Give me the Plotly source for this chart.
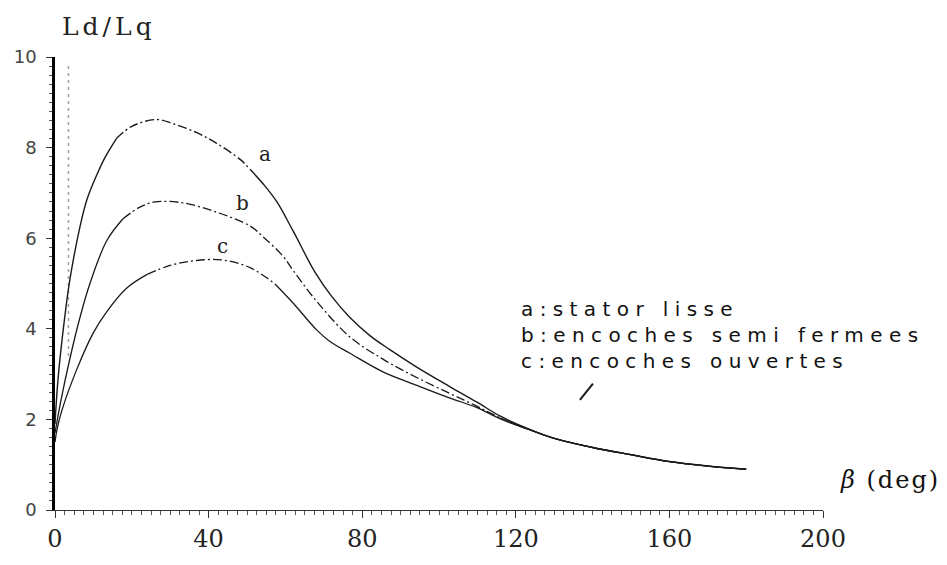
import plotly.graph_objects as go

# ---- data ----
x_a = [0, 0.8, 2.6, 3.9, 6.5, 8.3, 10.9, 13, 16, 20, 26.5, 31, 36.9, 42, 48.2, 50.8, 54.7, 57.8,
       62, 67.7, 72, 76.8, 82, 87.2, 94.3, 102.9, 109.9, 116, 123, 130, 140, 150, 160, 170, 180]
y_a = [1.9, 2.9, 4.3, 5.1, 6.25, 6.85, 7.4, 7.78, 8.2, 8.47, 8.62, 8.52, 8.33, 8.1, 7.74, 7.52,
       7.15, 6.8, 6.16, 5.25, 4.72, 4.25, 3.85, 3.54, 3.15, 2.72, 2.38, 2.07, 1.8, 1.58, 1.38, 1.22,
       1.07, 0.97, 0.9]

x_b = [0, 1.5, 3.9, 6.5, 9.1, 13.5, 17.7, 22, 26, 33.3, 42.2, 50.8, 54.2, 59.4, 62, 68.2, 76.8,
       85.4, 94.3, 102.9, 108.9, 116, 123, 130, 140, 150, 160, 170, 180]
y_b = [1.7, 2.4, 3.35, 4.25, 5.0, 5.95, 6.43, 6.68, 6.8, 6.78, 6.57, 6.27, 6.03, 5.6, 5.29, 4.6,
       3.82, 3.33, 2.92, 2.57, 2.33, 2.03, 1.79, 1.58, 1.38, 1.22, 1.07, 0.97, 0.9]

x_c = [0, 0.5, 1.8, 5.7, 9.9, 13.5, 18.7, 24, 30, 36, 43.5, 50.8, 57.3, 62, 68.2, 71.6, 76.8,
       85.4, 94.3, 102.9, 109.9, 116, 123, 130, 140, 150, 160, 170, 180]
y_c = [1.5, 1.77, 2.2, 3.11, 3.9, 4.38, 4.9, 5.2, 5.4, 5.5, 5.52, 5.35, 4.99, 4.57, 3.97, 3.72,
       3.46, 3.05, 2.75, 2.47, 2.26, 2.01, 1.79, 1.58, 1.38, 1.22, 1.07, 0.97, 0.9]

# index ranges where each scanned curve is drawn dash-dotted
dash_a = (8, 15)    # x 16 .. 50.8
dash_b = (6, 21)    # x 17.7 .. 116
dash_c = (7, 12)    # x 24 .. 57.3

curve_labels = ["a", "b", "c"]
label_x = [54.7, 48.7, 43.5]
label_y = [7.85, 6.78, 5.82]

legend_lines = ["a:stator lisse", "b:encoches semi fermees", "c:encoches ouvertes"]
legend_x = 121.1
legend_y = 3.86

# scan artefacts
stroke_x = [136.7, 140.1]
stroke_y = [2.43, 2.79]
dots_x = [3.5, 3.5]
dots_y = [9.8, 3.4]

x_ticks = [0, 40, 80, 120, 160, 200]
y_ticks = [0, 2, 4, 6, 8, 10]

ink = "#1a1a1a"
dashdot = "9px,3px,2px,3px"

fig = go.Figure()
fig.add_trace(go.Scatter(x=dots_x, y=dots_y, mode="lines",
                         line=dict(color="#a0a0a0", width=1.5, dash="3px,4px"),
                         showlegend=False, hoverinfo="skip"))


def add_curve(xs, ys, rng, width):
    i0, i1 = rng
    segs = [(0, i0 + 1, "solid"), (i0, i1 + 1, dashdot), (i1, len(xs), "solid")]
    for s, e, d in segs:
        fig.add_trace(go.Scatter(x=xs[s:e], y=ys[s:e], mode="lines",
                                 line=dict(color=ink, width=width, shape="spline", dash=d),
                                 showlegend=False))


add_curve(x_a, y_a, dash_a, 1.4)
add_curve(x_b, y_b, dash_b, 1.3)
add_curve(x_c, y_c, dash_c, 1.3)

fig.add_trace(go.Scatter(x=stroke_x, y=stroke_y, mode="lines", line=dict(color=ink, width=2),
                         showlegend=False, hoverinfo="skip"))

for t, xx, yy in zip(curve_labels, label_x, label_y):
    fig.add_annotation(x=xx, y=yy, text=t, showarrow=False,
                       font=dict(family="DejaVu Serif", size=20, color="#222"))

# index 3: legend block
fig.add_annotation(x=legend_x, y=legend_y, text="<br>".join(legend_lines), showarrow=False,
                   xanchor="left", yanchor="middle", align="left", borderpad=0,
                   font=dict(family="DejaVu Sans", size=20, color="#111"))
# index 4: y title
fig.add_annotation(xref="paper", yref="paper", x=(60 - 55) / 768, y=(526 - 25) / 469,
                   xanchor="left", yanchor="middle", align="left",
                   text="Ld/Lq", showarrow=False,
                   font=dict(family="DejaVu Serif", size=25, color="#222"))
# index 5: x title
fig.add_annotation(xref="paper", yref="paper", x=(942 - 55) / 768, y=(526 - 495) / 469,
                   xanchor="right", yanchor="middle", align="right",
                   text="<i>β</i> (deg)", showarrow=False,
                   font=dict(family="DejaVu Serif", size=24, color="#111"))

fig.update_layout(
    width=947, height=565,
    margin=dict(l=55, r=124, t=57, b=39),
    paper_bgcolor="white", plot_bgcolor="white",
    showlegend=False,
)
fig.update_xaxes(range=[0, 200], tickvals=x_ticks, ticks="outside", ticklen=7, tickcolor="#333",
                 showline=True, linecolor="#333", linewidth=1.2, showgrid=False, zeroline=False,
                 tickfont=dict(family="DejaVu Serif", size=24, color="#222"),
                 minor=dict(dtick=2.5, ticks="outside", ticklen=4, tickcolor="#555"))
fig.update_yaxes(range=[0, 10], tickvals=y_ticks, ticks="outside", ticklen=6, tickcolor="#333",
                 showline=True, linecolor="#000", linewidth=2.5, showgrid=False, zeroline=False,
                 ticklabelstandoff=6,
                 tickfont=dict(family="DejaVu Sans", size=18, color="#444"),
                 minor=dict(dtick=0.2, ticks="outside", ticklen=3, tickcolor="#555"))

post = """
var gd = document.getElementById('{plot_id}');
function spacing(idx, v) {
  gd.querySelectorAll('g.annotation[data-index="' + idx + '"] text').forEach(function (e) {
    e.setAttribute('letter-spacing', v);
    e.style.letterSpacing = v;
  });
}
spacing(3, '6.4px');
spacing(4, '4px');
spacing(5, '2px');
"""

fig.write_html("out.html", post_script=post)
